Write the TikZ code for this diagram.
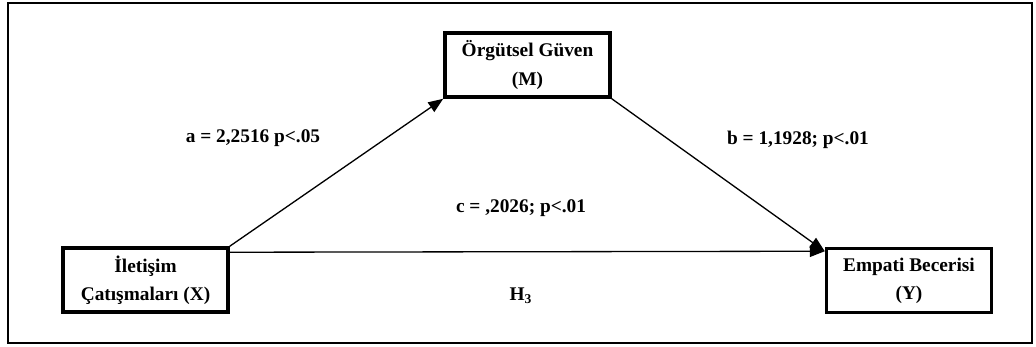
\documentclass[tikz,border=0pt]{standalone}
\usepackage{fontspec}
\setmainfont{Liberation Serif}
\usetikzlibrary{arrows.meta}
\usetikzlibrary{positioning}

\begin{document}
\begin{tikzpicture}[
  box/.style={draw, line width=2pt, minimum width=3.3cm, minimum height=1.28cm,
    align=center, font=\fontsize{11}{16}\selectfont\bfseries, inner sep=2pt},
  lbl/.style={font=\fontsize{11}{13}\selectfont\bfseries, inner sep=1pt},
  path/.style={-{Triangle[length=8.5pt, width=6.5pt]}, line width=0.75pt},
]

\useasboundingbox (0,0) rectangle (20.72,6.94);

% Outer frame
\draw[line width=1.3pt] (0.16,0.08) rectangle (20.64,6.88);

% Nodes
\node[box] (M) at (10.55,5.64) {Örgütsel Güven\\(M)};
\node[box] (X) at (2.91,1.34)  {İletişim\\Çatışmaları (X)};
\node[box] (Y) at (18.18,1.33) {Empati Becerisi\\(Y)};

% Entry point on Y
\coordinate (Yin) at ([yshift=-0.09cm]Y.north west);

% Paths
\draw[path] (X.north east) -- (M.south west);
\draw[path] (M.south east) -- (Yin);
\draw[path] ([yshift=-0.12cm]X.north east) -- (Yin);

% Labels
\node[lbl] (la) at (5.06,4.18)  {a = 2,2516 p<.05};
\node[lbl] (lb) at (15.96,4.14) {b = 1,1928; p<.01};
\node[lbl] (lc) at (10.42,2.78) {c = ,2026; p<.01};
\node[lbl] (lh) at (10.42,1.02) {H\textsubscript{3}};

\end{tikzpicture}
\end{document}
